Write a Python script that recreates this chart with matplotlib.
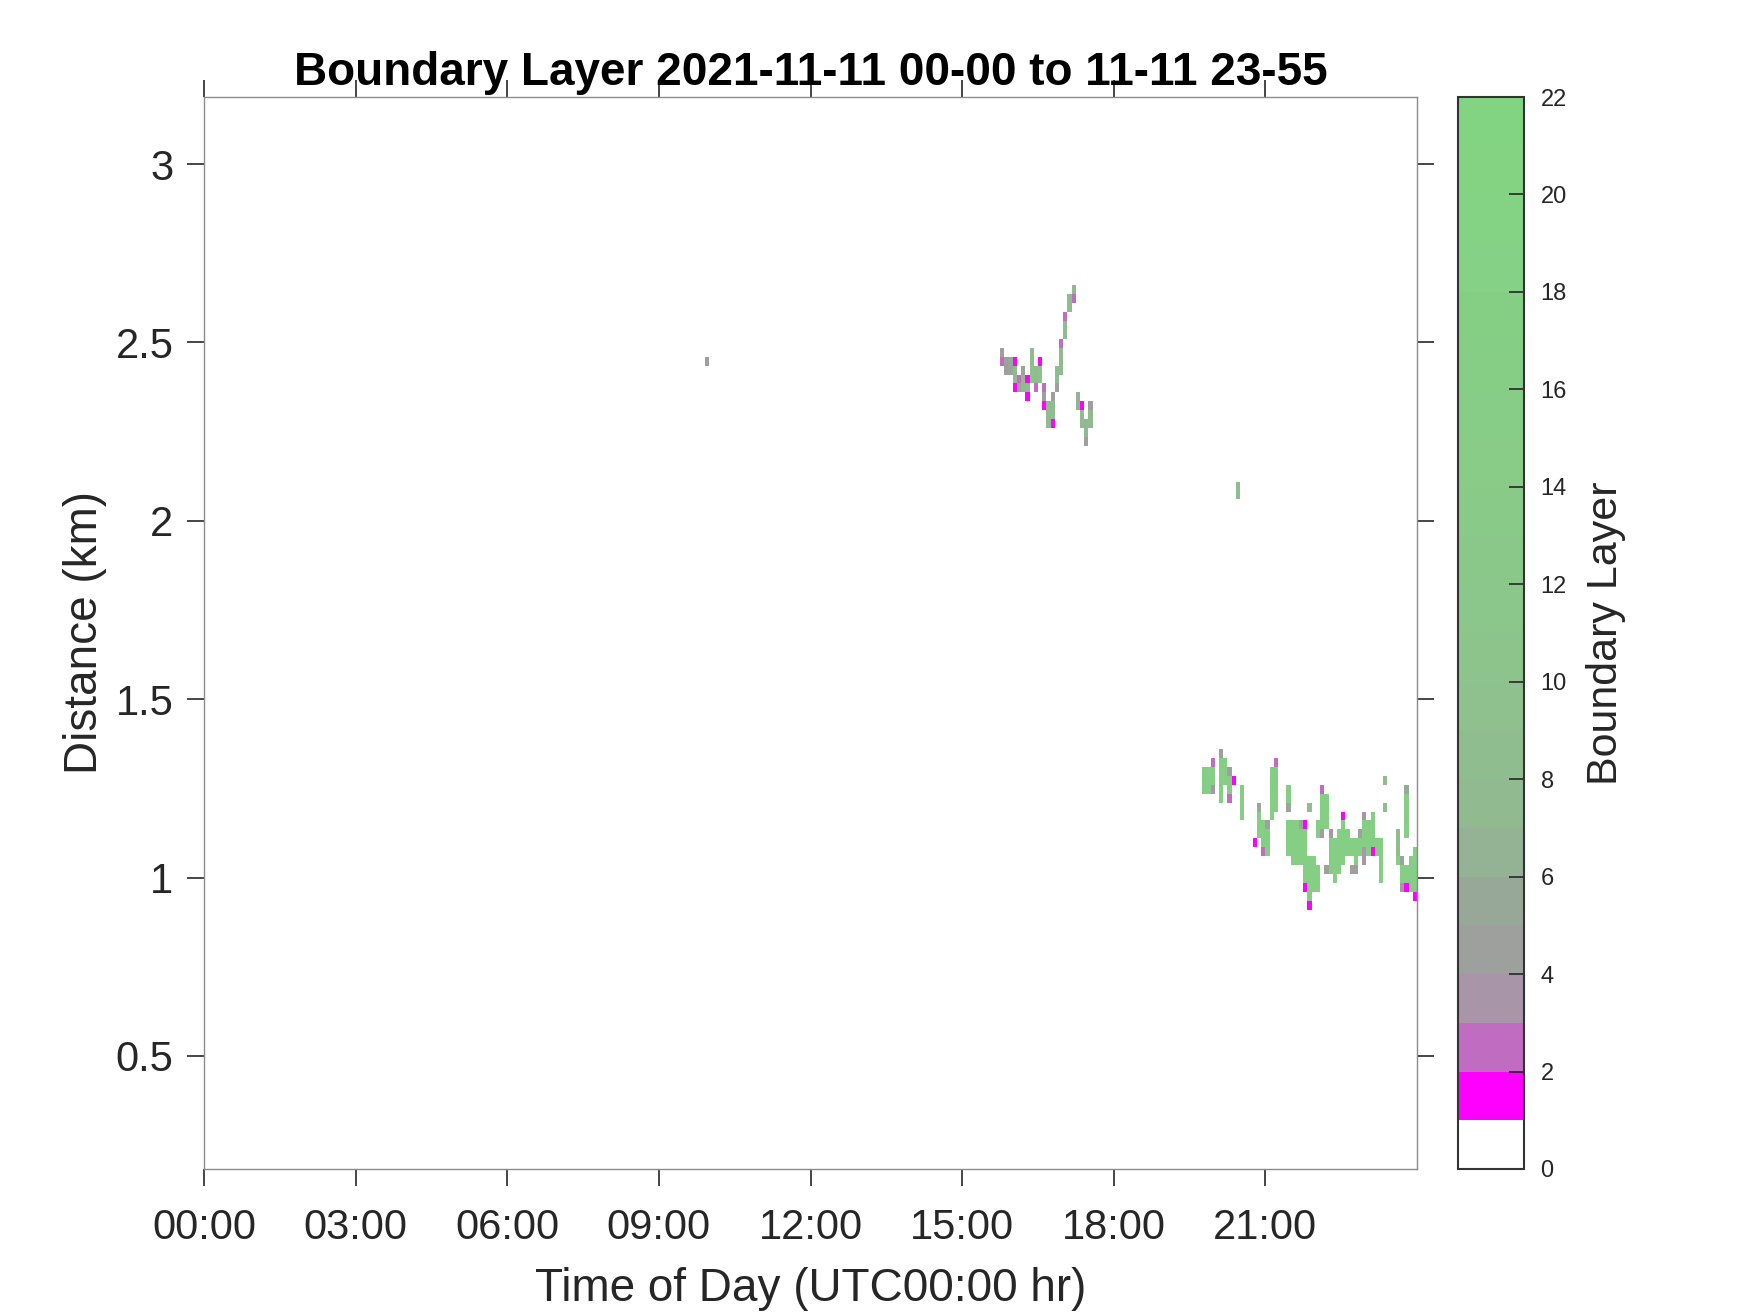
import numpy as np
import matplotlib
matplotlib.use("Agg")
import matplotlib.pyplot as plt
from matplotlib.colors import ListedColormap, BoundaryNorm

plt.rcParams['font.family'] = ['Liberation Sans', 'DejaVu Sans']

title = "Boundary Layer 2021-11-11 00-00 to 11-11 23-55"
x_ticks = [0, 3, 6, 9, 12, 15, 18, 21]
x_ticklabels = ["00:00", "03:00", "06:00", "09:00", "12:00", "15:00", "18:00", "21:00"]
y_ticks = [0.5, 1, 1.5, 2, 2.5, 3]
y_ticklabels = ["0.5", "1", "1.5", "2", "2.5", "3"]
cbar_ticks = list(range(0, 23, 2))

# 5-minute time bins (0..287) and 25 m range gates
gate_bottom = 0.185
gate_size = 0.025
n_gates = 120
n_bins = 288

# (time bin, top km, bottom km, value)
isolated_runs = [
    (119, 2.46, 2.435, 4.5),
    (245, 2.11, 2.06, 8),
]

upper_runs = [
    (189, 2.485, 2.46, 4.5), (189, 2.46, 2.435, 2.5),
    (190, 2.46, 2.41, 4.5),
    (191, 2.46, 2.41, 5.5),
    (192, 2.46, 2.435, 1.5), (192, 2.435, 2.385, 7), (192, 2.385, 2.36, 1.5),
    (193, 2.41, 2.385, 2.5), (193, 2.385, 2.36, 5),
    (194, 2.435, 2.41, 4.5), (194, 2.41, 2.36, 7),
    (195, 2.41, 2.385, 1.5), (195, 2.385, 2.36, 8), (195, 2.36, 2.335, 1.5),
    (196, 2.485, 2.435, 7), (196, 2.435, 2.385, 9),
    (197, 2.435, 2.385, 8), (197, 2.385, 2.36, 2.5),
    (198, 2.46, 2.435, 1.5), (198, 2.435, 2.385, 9),
    (199, 2.385, 2.36, 2.5), (199, 2.36, 2.335, 4.5), (199, 2.335, 2.31, 1.5),
    (200, 2.335, 2.26, 7),
    (201, 2.36, 2.335, 4.5), (201, 2.335, 2.285, 8), (201, 2.285, 2.26, 1.5),
    (202, 2.435, 2.385, 8), (202, 2.385, 2.36, 4.5),
    (203, 2.51, 2.485, 2.5), (203, 2.485, 2.41, 7),
    (204, 2.585, 2.56, 2.5), (204, 2.56, 2.51, 8),
    (205, 2.635, 2.585, 8),
    (206, 2.66, 2.635, 7), (206, 2.635, 2.61, 2.5),
    (207, 2.36, 2.31, 6),
    (208, 2.335, 2.31, 1.5), (208, 2.31, 2.26, 7),
    (209, 2.285, 2.235, 7), (209, 2.235, 2.21, 4.5),
    (210, 2.335, 2.31, 4.5), (210, 2.31, 2.26, 7),
]

lower_runs = [
    (237, 1.31, 1.235, 17),
    (238, 1.31, 1.235, 16),
    (239, 1.335, 1.31, 2.5), (239, 1.31, 1.26, 16), (239, 1.26, 1.235, 3.5),
    (241, 1.36, 1.335, 4.5), (241, 1.335, 1.21, 17),
    (242, 1.335, 1.26, 16),
    (243, 1.31, 1.285, 4.5), (243, 1.285, 1.235, 15), (243, 1.235, 1.21, 2.5),
    (244, 1.285, 1.26, 1.5),
    (246, 1.26, 1.16, 15),
    (249, 1.11, 1.085, 1.5),
    (250, 1.21, 1.185, 5), (250, 1.185, 1.11, 16),
    (251, 1.16, 1.085, 17), (251, 1.085, 1.06, 2.5),
    (252, 1.16, 1.135, 4.5), (252, 1.135, 1.06, 17),
    (253, 1.31, 1.16, 17),
    (254, 1.335, 1.31, 2.5), (254, 1.31, 1.185, 16),
    (257, 1.26, 1.21, 15), (257, 1.21, 1.185, 5), (257, 1.16, 1.06, 17),
    (258, 1.16, 1.035, 16),
    (259, 1.16, 1.035, 17),
    (260, 1.16, 1.135, 5), (260, 1.135, 1.035, 17),
    (261, 1.16, 1.135, 1.5), (261, 1.135, 0.985, 17), (261, 0.985, 0.96, 1.5),
    (262, 1.21, 1.185, 8), (262, 1.06, 0.935, 16), (262, 0.935, 0.91, 1.5),
    (263, 1.06, 0.96, 17),
    (264, 1.16, 1.11, 16), (264, 1.035, 0.96, 17),
    (265, 1.26, 1.235, 2.5), (265, 1.235, 1.135, 17), (265, 1.135, 1.11, 4.5),
    (266, 1.235, 1.135, 16), (266, 1.035, 1.01, 4.5),
    (267, 1.135, 1.11, 3.5), (267, 1.11, 1.01, 17),
    (268, 1.11, 0.985, 16),
    (269, 1.135, 1.01, 17),
    (270, 1.185, 1.16, 1.5), (270, 1.16, 1.035, 17),
    (271, 1.135, 1.06, 16),
    (272, 1.11, 1.06, 17), (272, 1.035, 1.01, 4.5),
    (273, 1.11, 1.035, 17), (273, 1.035, 1.01, 4.5),
    (274, 1.135, 1.11, 4.5), (274, 1.11, 1.06, 17),
    (275, 1.185, 1.16, 3.5), (275, 1.16, 1.085, 17), (275, 1.085, 1.035, 3),
    (276, 1.16, 1.06, 16),
    (277, 1.185, 1.085, 17), (277, 1.085, 1.06, 1.5),
    (278, 1.11, 1.06, 17),
    (279, 1.11, 0.985, 16),
    (280, 1.285, 1.26, 8), (280, 1.21, 1.185, 8),
    (283, 1.135, 1.06, 8), (283, 1.06, 1.035, 15),
    (284, 1.06, 1.035, 5), (284, 1.035, 0.985, 16), (284, 0.985, 0.96, 3.5),
    (285, 1.26, 1.235, 5), (285, 1.235, 1.11, 15), (285, 1.035, 0.985, 17), (285, 0.985, 0.96, 1.5),
    (286, 1.06, 0.96, 16),
    (287, 1.085, 0.96, 15), (287, 0.96, 0.935, 1.5),
]

# colour map: white, magenta, then magenta -> grey -> green
anchor_idx = [1, 2, 3, 4, 5, 6, 7, 10, 14, 21]
anchor_rgb = np.array([
    (255, 0, 255), (192, 108, 192), (168, 150, 168), (158, 160, 158),
    (152, 168, 152), (148, 178, 148), (145, 186, 145), (140, 196, 140),
    (136, 204, 136), (130, 212, 130)]) / 255.0
k = np.arange(1, 22)
cols = np.stack([np.interp(k, anchor_idx, anchor_rgb[:, c]) for c in range(3)], axis=1)
cols = np.vstack([[1, 1, 1], cols])
cmap = ListedColormap(cols)
norm = BoundaryNorm(np.arange(0, 23), cmap.N)

t_edges = np.arange(n_bins + 1) / 12.0
h_edges = gate_bottom + gate_size * np.arange(n_gates + 1)
h_centers = 0.5 * (h_edges[:-1] + h_edges[1:])
grid = np.full((n_gates, n_bins), np.nan)
for b, top, bot, v in isolated_runs + upper_runs + lower_runs:
    sel = (h_centers < top) & (h_centers > bot)
    grid[sel, b] = v

fig = plt.figure(figsize=(17.5, 13.13), dpi=100)
ax = fig.add_axes([0.1166, 0.1097, 0.6931, 0.8164])
mesh = ax.pcolormesh(t_edges, h_edges, grid, cmap=cmap, norm=norm)
ax.set_xlim(0, 24)
ax.set_ylim(0.183, 3.188)
ax.set_xticks(x_ticks)
ax.set_xticklabels(x_ticklabels)
ax.set_yticks(y_ticks)
ax.set_yticklabels(y_ticklabels)
ax.tick_params(axis='both', direction='out', length=12, width=1.2, color='#262626',
               labelsize=30, labelcolor='#262626', top=True, right=True)
ax.tick_params(axis='x', pad=16)
ax.tick_params(axis='y', pad=10)
for s in ax.spines.values():
    s.set_color('#8c8c8c')
    s.set_linewidth(1.0)
ax.set_xlabel("Time of Day (UTC00:00 hr)", fontsize=33, color='#262626', labelpad=14)
ax.set_ylabel("Distance (km)", fontsize=33, color='#262626', labelpad=6)
ax.set_title(title, fontsize=33, fontweight='bold', pad=9)

cax = fig.add_axes([0.8331, 0.1097, 0.0377, 0.8164])
cb = fig.colorbar(mesh, cax=cax, ticks=cbar_ticks)
cb.minorticks_off()
cb.outline.set_edgecolor('#333333')
cb.outline.set_linewidth(1.5)
cax.tick_params(direction='in', length=11, width=1.2, color='#262626',
                labelsize=17, labelcolor='#262626', pad=12)
cb.set_label("Boundary Layer", fontsize=31, color='#262626', labelpad=14)

fig.savefig("out.png", dpi=100)
